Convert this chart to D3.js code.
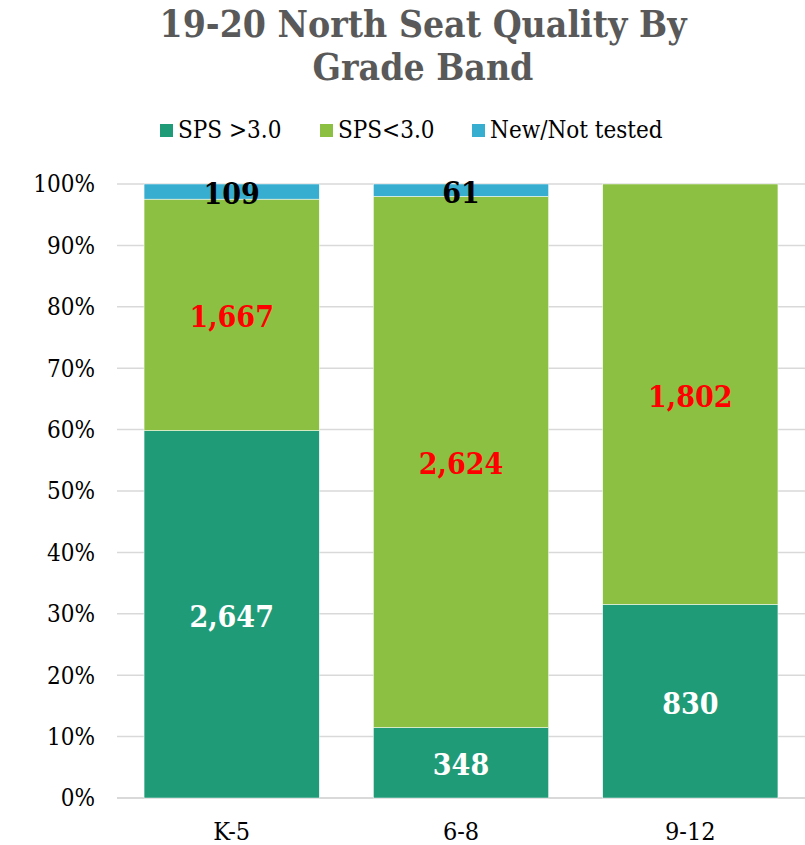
<!DOCTYPE html>
<meta charset="utf-8">
<style>
    body { margin: 0; background: #fff; }
    svg text { font-family: "DejaVu Serif Condensed", "DejaVu Serif", serif; font-stretch: condensed; }
</style>
<svg width="805" height="845"></svg>
<script src="https://d3js.org/d3.v7.min.js"></script>
<script>

    var categories = ["K-5", "6-8", "9-12"];
    var seriesNames = ["SPS >3.0", "SPS<3.0", "New/Not tested"];
    var spsAbove = [2647, 348, 830];
    var spsBelow = [1667, 2624, 1802];
    var newNotTested = [109, 61, 0];
    var yTicks = [0, 0.1, 0.2, 0.3, 0.4, 0.5, 0.6, 0.7, 0.8, 0.9, 1];

    var colors = ["#1f9b78", "#8bc043", "#37adcf"];
    var labelColors = ["#ffffff", "#ff0000", "#000000"];

    var svg = d3.select("svg"),
        width = +svg.attr("width"),
        height = +svg.attr("height");

    var margin = {top: 184, right: 0, bottom: 47, left: 117};

    // rows with shares per category
    var rows = categories.map(function(c, i) {
        var vals = [spsAbove[i], spsBelow[i], newNotTested[i]];
        var total = d3.sum(vals);
        var r = {cat: c, vals: vals};
        seriesNames.forEach(function(s, j) { r[s] = vals[j] / total; });
        return r;
    });

    var stack = d3.stack().keys(seriesNames);
    var layers = stack(rows);

    var x = d3.scaleBand()
        .domain(categories)
        .range([margin.left, width - margin.right])
        .paddingInner(0.236)
        .paddingOuter(0.118);

    var y = d3.scaleLinear()
        .domain([0, 1])
        .range([height - margin.bottom, margin.top]);

    // gridlines
    svg.append("g")
        .selectAll("line")
        .data(yTicks)
        .enter().append("line")
        .attr("x1", margin.left)
        .attr("x2", width - margin.right)
        .attr("y1", function(d) { return y(d); })
        .attr("y2", function(d) { return y(d); })
        .attr("stroke", "#d9d9d9")
        .attr("stroke-width", function(d) { return d === 0 ? 2 : 1.5; });

    // y axis labels
    svg.append("g")
        .selectAll("text")
        .data(yTicks)
        .enter().append("text")
        .attr("x", margin.left - 22)
        .attr("y", function(d) { return y(d); })
        .attr("dy", "0.35em")
        .attr("text-anchor", "end")
        .attr("font-size", 24)
        .attr("fill", "#000")
        .text(d3.format(".0%"));

    // bars
    var layer = svg.append("g")
        .selectAll("g")
        .data(layers)
        .enter().append("g")
        .attr("fill", function(d, i) { return colors[i]; });

    layer.selectAll("rect")
        .data(function(d) { return d; })
        .enter().append("rect")
        .attr("x", function(d) { return x(d.data.cat); })
        .attr("width", x.bandwidth())
        .attr("y", function(d) { return y(d[1]); })
        .attr("height", function(d) { return y(d[0]) - y(d[1]); })
        .attr("stroke", "#fff")
        .attr("stroke-width", 0.5);

    // value labels
    layers.forEach(function(L, j) {
        svg.append("g")
            .selectAll("text")
            .data(L.filter(function(d) { return d.data.vals[j] > 0; }))
            .enter().append("text")
            .attr("x", function(d) { return x(d.data.cat) + x.bandwidth() / 2; })
            .attr("y", function(d) { return (y(d[0]) + y(d[1])) / 2 + 2; })
            .attr("dy", "0.35em")
            .attr("text-anchor", "middle")
            .attr("font-size", 30)
            .attr("font-weight", "bold")
            .attr("fill", labelColors[j])
            .text(function(d) { return d3.format(",")(d.data.vals[j]); });
    });

    // x axis labels
    svg.append("g")
        .selectAll("text")
        .data(categories)
        .enter().append("text")
        .attr("x", function(d) { return x(d) + x.bandwidth() / 2; })
        .attr("y", height - margin.bottom + 33)
        .attr("dy", "0.35em")
        .attr("text-anchor", "middle")
        .attr("font-size", 25)
        .attr("fill", "#000")
        .text(function(d) { return d; });

    // title
    var title = svg.append("text")
        .attr("x", 423)
        .attr("text-anchor", "middle")
        .attr("font-size", 37)
        .attr("font-weight", "bold")
        .attr("fill", "#595959");
    title.append("tspan").attr("x", 423).attr("y", 37).text("19-20 North Seat Quality By");
    title.append("tspan").attr("x", 423).attr("y", 80).text("Grade Band");

    // legend
    var legendX = [160, 320, 472];
    var legend = svg.append("g")
        .selectAll("g")
        .data(seriesNames)
        .enter().append("g")
        .attr("transform", function(d, i) { return "translate(" + legendX[i] + ",130)"; });

    legend.append("rect")
        .attr("x", 0)
        .attr("y", -6)
        .attr("width", 13)
        .attr("height", 13)
        .attr("fill", function(d, i) { return colors[i]; });

    legend.append("text")
        .attr("x", 18)
        .attr("y", 0)
        .attr("dy", "0.35em")
        .attr("font-size", 24)
        .attr("fill", "#000")
        .text(function(d) { return d; });

</script>
